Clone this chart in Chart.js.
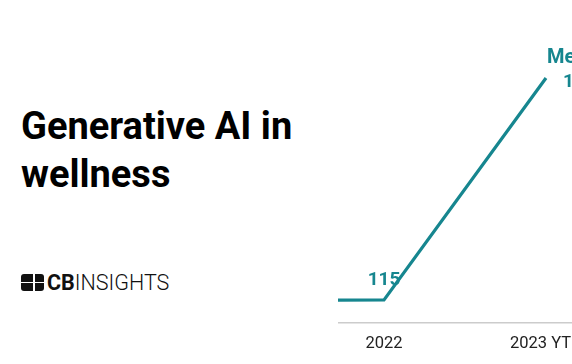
<!DOCTYPE html>
<html>
<head>
<meta charset="utf-8">
<script src="https://cdn.jsdelivr.net/npm/chart.js@4.4.0/dist/chart.umd.min.js"></script>
<style>
  html, body { margin: 0; padding: 0; background: #fff; }
  body { width: 572px; height: 364px; overflow: hidden; position: relative; font-family: Roboto, "Noto Sans", sans-serif; }
  #title { position: absolute; left: 21px; top: 102px; font-size: 38px; line-height: 48px; font-weight: 700; color: #000; margin: 0; }
  #logo { position: absolute; left: 21px; top: 270px; height: 24px; display: flex; align-items: center; }
  #logo .icon { width: 23px; height: 17px; background: #111; border-radius: 3px; position: relative; margin-right: 3px; }
  #logo .icon:before { content: ""; position: absolute; left: 0; right: 0; top: 8px; height: 1.5px; background: #fff; }
  #logo .icon:after { content: ""; position: absolute; top: 0; bottom: 0; left: 12px; width: 1.5px; background: #fff; }
  #logo .txt { font-size: 21.5px; color: #111; }
  #logo .txt b { font-weight: 700; }
  #logo .txt span { font-weight: 300; }
  #wrap { position: absolute; left: 338px; top: 0; width: 300px; height: 364px; }
</style>
</head>
<body>
<h1 id="title">Generative AI in<br>wellness</h1>
<div id="logo"><div class="icon"></div><div class="txt"><b>CB</b><span>INSIGHTS</span></div></div>
<div id="wrap"><canvas id="line_chart"></canvas></div>
<script>
const years = [2021, 2022, 2023];
const tickLabels = ["2021", "2022", "2023 YTD"];
const mentions = [112, 115, 1225];
const seriesName = "Mentions";

const teal = "#16868f";

const labelPlugin = {
  id: "valueLabels",
  afterDatasetsDraw(chart) {
    const ctx = chart.ctx;
    const pts = chart.getDatasetMeta(0).data;
    ctx.save();
    ctx.fillStyle = teal;
    ctx.textBaseline = "middle";
    // 2022 label, centred above the point
    const p1 = pts[1];
    ctx.font = "bold 19px Roboto";
    ctx.textAlign = "center";
    ctx.fillText(String(mentions[1]), p1.x, p1.y - 20);
    // last point: name + value to the right
    const p2 = pts[2];
    ctx.font = "bold 20px Roboto";
    ctx.textAlign = "left";
    ctx.fillText(seriesName, p2.x + 1, p2.y - 20);
    ctx.font = "bold 19px Roboto";
    ctx.fillText(mentions[2].toLocaleString("en-US"), p2.x + 17, p2.y + 4);
    ctx.restore();
  }
};

const ctx = document.getElementById("line_chart").getContext("2d");
new Chart(ctx, {
  type: "line",
  data: {
    datasets: [
      {
        label: seriesName,
        data: years.map((y, i) => ({ x: y, y: mentions[i] })),
        borderColor: teal,
        borderWidth: 3.2,
        pointRadius: 0,
        tension: 0,
        fill: false,
      },
    ],
  },
  options: {
    responsive: true,
    maintainAspectRatio: false,
    animation: false,
    layout: { padding: { top: 20, right: 11, left: 0, bottom: 0 } },
    plugins: { legend: { display: false }, tooltip: { enabled: false } },
    scales: {
      x: {
        type: "linear",
        min: 2021.716,
        max: 2023.5,
        afterBuildTicks: (scale) => {
          scale.ticks = [{ value: 2022 }, { value: 2023 }];
        },
        afterFit: (scale) => {
          scale.height = 41;
        },
        grid: { display: false, drawTicks: false },
        border: { display: true, color: "#cccccc", width: 1.5 },
        ticks: {
          padding: 11,
          color: "#222",
          font: { family: "Roboto", size: 16.5 },
          maxRotation: 0,
          callback: (v) => tickLabels[years.indexOf(v)],
        },
      },
      y: {
        display: false,
        min: 0,
        max: 1515,
      },
    },
  },
  plugins: [labelPlugin],
});
</script>
</body>
</html>
